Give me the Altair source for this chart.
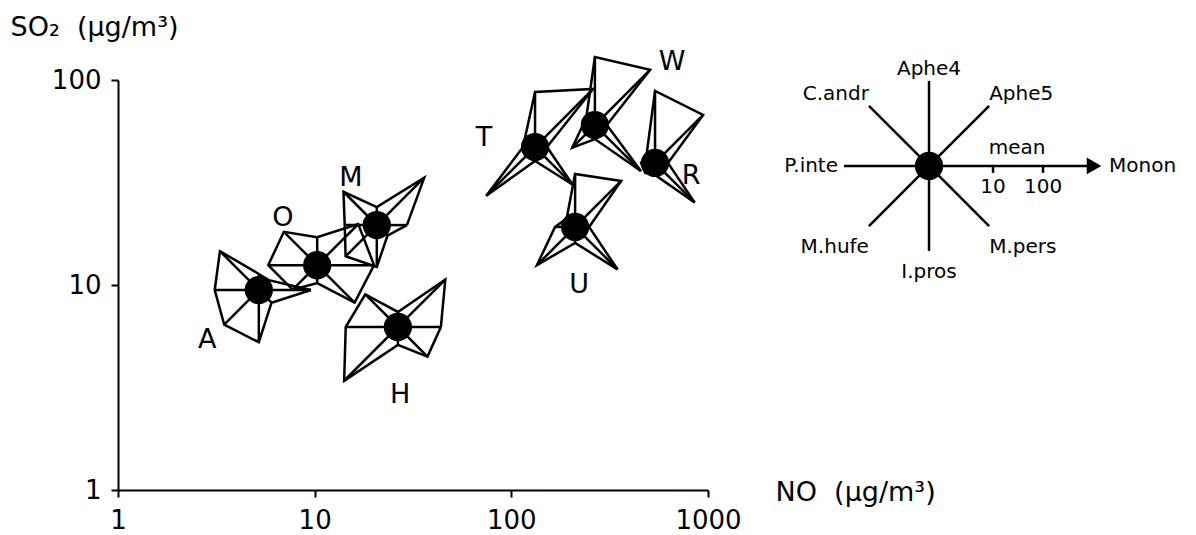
import math
import altair as alt
import pandas as pd

# ---------------- data ----------------
species = ["Monon", "Aphe5", "Aphe4", "C.andr", "P.inte", "M.hufe", "I.pros", "M.pers"]
sites = ["A", "O", "M", "H", "T", "W", "R", "U"]
no_conc = [5.2, 10.3, 20.7, 26.5, 132, 266, 538, 211]          # NO (ug/m3)
so2_conc = [9.45, 12.5, 19.6, 6.24, 47.1, 60.3, 39.4, 19.2]     # SO2 (ug/m3)

# mean abundance of each species (order of `species`) at each site
abund_A = [5.8, 1.0, 1.1, 6.6, 4.0, 5.0, 5.8, 1.2]
abund_O = [7.2, 7.6, 1.9, 4.6, 5.0, 2.6, 1.2, 6.0]
abund_M = [2.1, 11.5, 1.2, 4.6, 2.3, 4.0, 3.6, 1.05]
abund_H = [3.8, 11.5, 1.05, 4.4, 5.8, 17.4, 1.2, 3.6]
abund_T = [0.91, 23.0, 6.6, 1.0, 0.91, 12.6, 1.0, 6.0]
abund_W = [0.91, 19.1, 12.0, 0.91, 0.91, 2.3, 1.0, 10.5]
abund_R = [0.95, 12.0, 14.5, 0.91, 1.0, 1.0, 0.91, 6.9]
abund_U = [1.0, 10.5, 6.0, 0.91, 1.32, 6.3, 1.1, 8.3]
abundances = [abund_A, abund_O, abund_M, abund_H, abund_T, abund_W, abund_R, abund_U]

label_no = [2.84, 6.9, 15.3, 27.2, 72.6, 656, 820, 221]
label_so2 = [5.39, 21.2, 33.3, 2.91, 52.2, 122, 34.0, 10.0]

x_ticks = [1, 10, 100, 1000]
y_ticks = [1, 10, 100]
key_ticks = [10, 100]
key_no, key_so2 = 13300, 38.1

# ---------------- layout / style ----------------
W, H = 590, 410
XPX = W / 3.0   # px per decade on x
YPX = H / 2.0   # px per decade on y
GLYPH_DEC = 50.0   # glyph px per decade of abundance
GLYPH_BASE = 14.0  # glyph px at abundance 1
KEY_R = 85.0
KEY_AXIS = 174.0
FONT = "DejaVu Sans"
KEY_FS = 20
angles = [i * 45 for i in range(8)]
NB = "\u00a0"


def shift(x0, y0, L, ang):
    a = math.radians(ang)
    return x0 * 10 ** (L * math.cos(a) / XPX), y0 * 10 ** (L * math.sin(a) / YPX)


def glyph_len(v):
    return GLYPH_BASE + GLYPH_DEC * math.log10(v)


poly_rows, spoke_rows = [], []
for s, x0, y0, ab in zip(sites, no_conc, so2_conc, abundances):
    pts = [shift(x0, y0, glyph_len(v), a) for v, a in zip(ab, angles)]
    for k in range(9):
        px, py = pts[k % 8]
        poly_rows.append({"site": s, "k": k, "x": px, "y": py})
    for sp, (px, py) in zip(species, pts):
        spoke_rows.append({"site": s, "sp": sp, "x": x0, "y": y0, "x2": px, "y2": py})

poly_df = pd.DataFrame(poly_rows)
spoke_df = pd.DataFrame(spoke_rows)
centers_df = pd.DataFrame({"site": sites, "x": no_conc, "y": so2_conc})
labels_df = pd.DataFrame({"site": sites, "x": label_no, "y": label_so2})

# key (legend) glyph
key_spokes = []
for sp, a in zip(species[1:], angles[1:]):
    ex, ey = shift(key_no, key_so2, KEY_R, a)
    key_spokes.append({"sp": sp, "x": key_no, "y": key_so2, "x2": ex, "y2": ey})
ax_end = shift(key_no, key_so2, KEY_AXIS - 10, 0)
key_spokes.append({"sp": "Monon", "x": key_no, "y": key_so2, "x2": ax_end[0], "y2": ax_end[1]})
key_spoke_df = pd.DataFrame(key_spokes)

arrow_pt = shift(key_no, key_so2, KEY_AXIS - 9, 0)
arrow_df = pd.DataFrame({"x": [arrow_pt[0]], "y": [arrow_pt[1]]})

tick_rows, tick_lab_rows = [], []
for t in key_ticks:
    L = glyph_len(t)
    tx, ty = shift(key_no, key_so2, L, 0)
    ty2 = ty * 10 ** (-7 / YPX)
    tick_rows.append({"x": tx, "y": ty, "y2": ty2})
    tick_lab_rows.append({"x": tx, "y": ty * 10 ** (-11 / YPX), "text": str(t)})
tick_df = pd.DataFrame(tick_rows)
tick_lab_df = pd.DataFrame(tick_lab_rows)
mx, my = shift(key_no, key_so2, 88, 0)
mean_df = pd.DataFrame({"x": [mx], "y": [my * 10 ** (12 / YPX)], "text": ["mean"]})

# key labels grouped by alignment
groups = {}
for sp, a in zip(species, angles):
    c, s_ = math.cos(math.radians(a)), math.sin(math.radians(a))
    if sp == "Monon":
        ex, ey = shift(key_no, key_so2, KEY_AXIS + 6, a)
    elif sp == "P.inte":
        ex, ey = shift(key_no, key_so2, KEY_R + 6, a)
    else:
        ex, ey = shift(key_no, key_so2, KEY_R, a)
    align = "left" if c > 0.3 else ("right" if c < -0.3 else "center")
    if s_ > 0.3:
        base, dy = "alphabetic", 6
    elif s_ < -0.3:
        base, dy = "top", -11
    else:
        base, dy = "middle", 0
    ey = ey * 10 ** (dy / YPX)
    groups.setdefault((align, base), []).append({"x": ex, "y": ey, "text": sp})

# ---------------- chart ----------------
xscale = alt.Scale(type="log", domain=[1, 1000], nice=False)
yscale = alt.Scale(type="log", domain=[1, 100], nice=False)
xaxis = alt.Axis(values=x_ticks, format="d", title=f"NO{NB}{NB}(μg/m³)", titleX=657, titleY=2,
                 titleAlign="left", titleBaseline="middle", titleAngle=0,
                 labelPadding=10, labelFlush=False)
yaxis = alt.Axis(values=y_ticks, format="d", title=f"SO₂{NB}{NB}(μg/m³)", titleX=-108, titleY=-53,
                 titleAlign="left", titleBaseline="middle", titleAngle=0,
                 labelPadding=10, labelFlush=False)
X = alt.X("x:Q", scale=xscale, axis=xaxis)
Y = alt.Y("y:Q", scale=yscale, axis=yaxis)

lw = 2.5
poly = alt.Chart(poly_df).mark_line(color="black", strokeWidth=lw, strokeJoin="miter").encode(
    x=X, y=Y, detail="site:N", order="k:Q")
spokes = alt.Chart(spoke_df).mark_rule(color="black", strokeWidth=lw).encode(
    x=X, y=Y, x2="x2:Q", y2="y2:Q")
dots = alt.Chart(centers_df).mark_circle(color="black", opacity=1, size=800).encode(x=X, y=Y)
site_text = alt.Chart(labels_df).mark_text(font=FONT, fontSize=27, color="black").encode(
    x=X, y=Y, text="site:N")

key_sp = alt.Chart(key_spoke_df).mark_rule(color="black", strokeWidth=lw).encode(
    x=X, y=Y, x2="x2:Q", y2="y2:Q")
key_dot = alt.Chart(pd.DataFrame({"x": [key_no], "y": [key_so2]})).mark_circle(
    color="black", opacity=1, size=800).encode(x=X, y=Y)
arrow = alt.Chart(arrow_df).mark_point(shape="triangle-right", filled=True, color="black",
                                       opacity=1, size=280).encode(x=X, y=Y)
key_ticks_m = alt.Chart(tick_df).mark_rule(color="black", strokeWidth=lw).encode(
    x=X, y=Y, y2="y2:Q")
key_tick_labels = alt.Chart(tick_lab_df).mark_text(font=FONT, fontSize=KEY_FS, baseline="top",
                                                   color="black").encode(x=X, y=Y, text="text:N")
mean_text = alt.Chart(mean_df).mark_text(font=FONT, fontSize=KEY_FS, baseline="alphabetic",
                                         color="black").encode(x=X, y=Y, text="text:N")

layers = [poly, spokes, dots, site_text, key_sp, key_dot, arrow, key_ticks_m,
          key_tick_labels, mean_text]
for (align, base), rows in groups.items():
    layers.append(alt.Chart(pd.DataFrame(rows)).mark_text(
        font=FONT, fontSize=KEY_FS, align=align, baseline=base, color="black").encode(
        x=X, y=Y, text="text:N"))

chart = alt.layer(*layers).properties(
    width=W, height=H, autosize="none",
    padding={"left": 110, "top": 72, "right": 478, "bottom": 45},
    background="white",
).configure_view(stroke=None).configure_axis(
    grid=False, domainColor="black", domainWidth=2, tickColor="black", tickWidth=2,
    tickSize=7, labelFont=FONT, labelFontSize=26, labelColor="black",
    titleFont=FONT, titleFontSize=27, titleFontWeight="normal", titleColor="black",
)

chart.save("out.html", embed_options={"renderer": "svg", "actions": False})
